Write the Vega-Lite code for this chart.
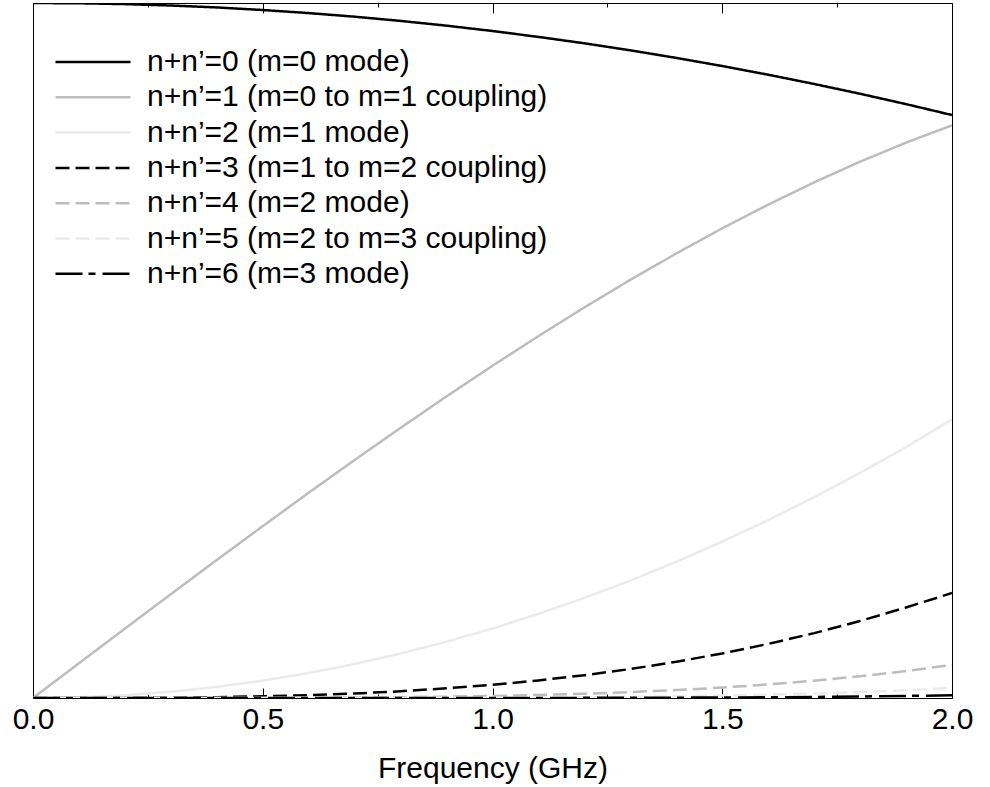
{
  "$schema": "https://vega.github.io/schema/vega-lite/v6.json",
  "width": 919,
  "height": 695,
  "autosize": "none",
  "padding": {"left": 33, "top": 3, "right": 38, "bottom": 89},
  "background": "white",
  "config": {
    "view": {"stroke": "#000", "strokeWidth": 1},
    "font": "Liberation Sans"
  },
  "datasets": {
    "names": [
      {"k": 0, "label": "n+n’=0 (m=0 mode)"},
      {"k": 1, "label": "n+n’=1 (m=0 to m=1 coupling)"},
      {"k": 2, "label": "n+n’=2 (m=1 mode)"},
      {"k": 3, "label": "n+n’=3 (m=1 to m=2 coupling)"},
      {"k": 4, "label": "n+n’=4 (m=2 mode)"},
      {"k": 5, "label": "n+n’=5 (m=2 to m=3 coupling)"},
      {"k": 6, "label": "n+n’=6 (m=3 mode)"}
    ],
    "curves": [
      {"k":0,"f":0.0,"v":1.0},{"k":0,"f":0.1,"v":0.9996},{"k":0,"f":0.2,"v":0.9984},{"k":0,"f":0.3,"v":0.9964},{"k":0,"f":0.4,"v":0.9936},{"k":0,"f":0.5,"v":0.9899},{"k":0,"f":0.6,"v":0.9855},{"k":0,"f":0.7,"v":0.9803},{"k":0,"f":0.8,"v":0.9742},{"k":0,"f":0.9,"v":0.9674},{"k":0,"f":1.0,"v":0.9597},{"k":0,"f":1.1,"v":0.9512},{"k":0,"f":1.2,"v":0.942},{"k":0,"f":1.3,"v":0.9319},{"k":0,"f":1.4,"v":0.921},{"k":0,"f":1.5,"v":0.9093},{"k":0,"f":1.6,"v":0.8968},{"k":0,"f":1.7,"v":0.8835},{"k":0,"f":1.8,"v":0.8694},{"k":0,"f":1.9,"v":0.8545},{"k":0,"f":2.0,"v":0.8388},
      {"k":1,"f":0.0,"v":0.0},{"k":1,"f":0.1,"v":0.05},{"k":1,"f":0.2,"v":0.0998},{"k":1,"f":0.3,"v":0.1494},{"k":1,"f":0.4,"v":0.1986},{"k":1,"f":0.5,"v":0.2473},{"k":1,"f":0.6,"v":0.2953},{"k":1,"f":0.7,"v":0.3425},{"k":1,"f":0.8,"v":0.3887},{"k":1,"f":0.9,"v":0.434},{"k":1,"f":1.0,"v":0.478},{"k":1,"f":1.1,"v":0.5207},{"k":1,"f":1.2,"v":0.562},{"k":1,"f":1.3,"v":0.6017},{"k":1,"f":1.4,"v":0.6396},{"k":1,"f":1.5,"v":0.6758},{"k":1,"f":1.6,"v":0.7099},{"k":1,"f":1.7,"v":0.7419},{"k":1,"f":1.8,"v":0.7717},{"k":1,"f":1.9,"v":0.7991},{"k":1,"f":2.0,"v":0.824},
      {"k":2,"f":0.0,"v":0.0},{"k":2,"f":0.1,"v":0.001},{"k":2,"f":0.2,"v":0.004},{"k":2,"f":0.3,"v":0.009},{"k":2,"f":0.4,"v":0.016},{"k":2,"f":0.5,"v":0.025},{"k":2,"f":0.6,"v":0.036},{"k":2,"f":0.7,"v":0.049},{"k":2,"f":0.8,"v":0.064},{"k":2,"f":0.9,"v":0.081},{"k":2,"f":1.0,"v":0.1},{"k":2,"f":1.1,"v":0.121},{"k":2,"f":1.2,"v":0.144},{"k":2,"f":1.3,"v":0.169},{"k":2,"f":1.4,"v":0.196},{"k":2,"f":1.5,"v":0.225},{"k":2,"f":1.6,"v":0.256},{"k":2,"f":1.7,"v":0.289},{"k":2,"f":1.8,"v":0.324},{"k":2,"f":1.9,"v":0.361},{"k":2,"f":2.0,"v":0.401},
      {"k":3,"f":0.0,"v":0.0},{"k":3,"f":0.1,"v":0.00002},{"k":3,"f":0.2,"v":0.00015},{"k":3,"f":0.3,"v":0.0005},{"k":3,"f":0.4,"v":0.0012},{"k":3,"f":0.5,"v":0.0024},{"k":3,"f":0.6,"v":0.0041},{"k":3,"f":0.7,"v":0.0065},{"k":3,"f":0.8,"v":0.0097},{"k":3,"f":0.9,"v":0.0139},{"k":3,"f":1.0,"v":0.019},{"k":3,"f":1.1,"v":0.0253},{"k":3,"f":1.2,"v":0.0328},{"k":3,"f":1.3,"v":0.0417},{"k":3,"f":1.4,"v":0.0521},{"k":3,"f":1.5,"v":0.0641},{"k":3,"f":1.6,"v":0.0778},{"k":3,"f":1.7,"v":0.0933},{"k":3,"f":1.8,"v":0.1108},{"k":3,"f":1.9,"v":0.1303},{"k":3,"f":2.0,"v":0.151},
      {"k":4,"f":0.0,"v":0.0},{"k":4,"f":0.1,"v":0.0},{"k":4,"f":0.2,"v":0.000005},{"k":4,"f":0.3,"v":0.000024},{"k":4,"f":0.4,"v":0.000076},{"k":4,"f":0.5,"v":0.00018},{"k":4,"f":0.6,"v":0.00038},{"k":4,"f":0.7,"v":0.00071},{"k":4,"f":0.8,"v":0.00122},{"k":4,"f":0.9,"v":0.00195},{"k":4,"f":1.0,"v":0.00298},{"k":4,"f":1.1,"v":0.00436},{"k":4,"f":1.2,"v":0.00617},{"k":4,"f":1.3,"v":0.0085},{"k":4,"f":1.4,"v":0.01143},{"k":4,"f":1.5,"v":0.01506},{"k":4,"f":1.6,"v":0.0195},{"k":4,"f":1.7,"v":0.02485},{"k":4,"f":1.8,"v":0.03124},{"k":4,"f":1.9,"v":0.03878},{"k":4,"f":2.0,"v":0.0476},
      {"k":5,"f":0.0,"v":0.0},{"k":5,"f":0.1,"v":0.0},{"k":5,"f":0.2,"v":0.0},{"k":5,"f":0.3,"v":0.0},{"k":5,"f":0.4,"v":0.0},{"k":5,"f":0.5,"v":0.00001},{"k":5,"f":0.6,"v":0.00003},{"k":5,"f":0.7,"v":0.00008},{"k":5,"f":0.8,"v":0.00015},{"k":5,"f":0.9,"v":0.00027},{"k":5,"f":1.0,"v":0.00045},{"k":5,"f":1.1,"v":0.00072},{"k":5,"f":1.2,"v":0.00112},{"k":5,"f":1.3,"v":0.00167},{"k":5,"f":1.4,"v":0.00242},{"k":5,"f":1.5,"v":0.00342},{"k":5,"f":1.6,"v":0.00472},{"k":5,"f":1.7,"v":0.00639},{"k":5,"f":1.8,"v":0.0085},{"k":5,"f":1.9,"v":0.01114},{"k":5,"f":2.0,"v":0.0144},
      {"k":6,"f":0.0,"v":0.0},{"k":6,"f":0.1,"v":0.0},{"k":6,"f":0.2,"v":0.0},{"k":6,"f":0.3,"v":0.0},{"k":6,"f":0.4,"v":0.0},{"k":6,"f":0.5,"v":0.0},{"k":6,"f":0.6,"v":0.0},{"k":6,"f":0.7,"v":0.00001},{"k":6,"f":0.8,"v":0.00002},{"k":6,"f":0.9,"v":0.00003},{"k":6,"f":1.0,"v":0.00006},{"k":6,"f":1.1,"v":0.00011},{"k":6,"f":1.2,"v":0.00019},{"k":6,"f":1.3,"v":0.0003},{"k":6,"f":1.4,"v":0.00047},{"k":6,"f":1.5,"v":0.00071},{"k":6,"f":1.6,"v":0.00105},{"k":6,"f":1.7,"v":0.00151},{"k":6,"f":1.8,"v":0.00213},{"k":6,"f":1.9,"v":0.00294},{"k":6,"f":2.0,"v":0.004}
    ]
  },
  "data": {"name": "curves"},
  "transform": [
    {"lookup": "k", "from": {"data": {"name": "names"}, "key": "k", "fields": ["label"]}}
  ],
  "layer": [
    {
      "mark": {"type": "line", "strokeWidth": 2.5, "clip": true},
      "encoding": {
        "x": {
          "field": "f", "type": "quantitative",
          "scale": {"domain": [0, 2], "nice": false, "zero": false},
          "axis": {
            "orient": "bottom",
            "title": "Frequency (GHz)",
            "values": [0, 0.25, 0.5, 0.75, 1, 1.25, 1.5, 1.75, 2],
            "format": ".1f",
            "labelExpr": "datum.value % 0.5 === 0 ? datum.label : ''",
            "tickSize": {"condition": {"test": "datum.value % 0.5 === 0", "value": -10}, "value": -4},
            "tickColor": "#000",
            "tickWidth": 1,
            "domain": false,
            "grid": false,
            "labelFont": "Liberation Sans",
            "labelFontSize": 30,
            "labelColor": "#000",
            "labelPadding": 16,
            "labelFlush": false,
            "labelOverlap": false,
            "titleFont": "Liberation Sans",
            "titleFontSize": 30,
            "titleFontWeight": "normal",
            "titleColor": "#000",
            "titlePadding": 13
          }
        },
        "y": {
          "field": "v", "type": "quantitative",
          "scale": {"domain": [0, 1], "nice": false},
          "axis": null
        },
        "color": {
          "field": "label", "type": "nominal",
          "scale": {
            "domain": ["n+n’=0 (m=0 mode)", "n+n’=1 (m=0 to m=1 coupling)", "n+n’=2 (m=1 mode)", "n+n’=3 (m=1 to m=2 coupling)", "n+n’=4 (m=2 mode)", "n+n’=5 (m=2 to m=3 coupling)", "n+n’=6 (m=3 mode)"],
            "range": ["#000000", "#bdbdbd", "#ebebeb", "#000000", "#bdbdbd", "#ebebeb", "#000000"]
          },
          "legend": {
            "title": null,
            "orient": "none",
            "legendX": 21,
            "legendY": 44,
            "padding": 0,
            "symbolType": "stroke",
            "symbolSize": 5625,
            "symbolStrokeWidth": 2.5,
            "clipHeight": 30,
            "rowPadding": 5.3,
            "labelOffset": 15,
            "labelFont": "Liberation Sans",
            "labelFontSize": 30,
            "labelColor": "#000",
            "labelLimit": 0
          }
        },
        "strokeDash": {
          "field": "label", "type": "nominal",
          "scale": {
            "domain": ["n+n’=0 (m=0 mode)", "n+n’=1 (m=0 to m=1 coupling)", "n+n’=2 (m=1 mode)", "n+n’=3 (m=1 to m=2 coupling)", "n+n’=4 (m=2 mode)", "n+n’=5 (m=2 to m=3 coupling)", "n+n’=6 (m=3 mode)"],
            "range": [[1, 0], [1, 0], [1, 0], [14, 6], [14, 6], [14, 6], [27, 6, 7, 7]]
          },
          "legend": {
            "title": null,
            "orient": "none",
            "legendX": 21,
            "legendY": 44,
            "padding": 0,
            "symbolType": "stroke",
            "symbolSize": 5625,
            "symbolStrokeWidth": 2.5,
            "clipHeight": 30,
            "rowPadding": 5.3,
            "labelOffset": 15,
            "labelFont": "Liberation Sans",
            "labelFontSize": 30,
            "labelColor": "#000",
            "labelLimit": 0
          }
        }
      }
    },
    {
      "mark": {"type": "point", "opacity": 0},
      "encoding": {
        "x": {
          "field": "f", "type": "quantitative",
          "axis": {
            "orient": "top",
            "title": null,
            "values": [0, 0.25, 0.5, 0.75, 1, 1.25, 1.5, 1.75, 2],
            "labels": false,
            "tickSize": {"condition": {"test": "datum.value % 0.5 === 0", "value": -10}, "value": -4},
            "tickColor": "#000",
            "tickWidth": 1,
            "domain": false,
            "grid": false
          }
        },
        "y": {"field": "v", "type": "quantitative"}
      }
    }
  ],
  "resolve": {"axis": {"x": "independent"}}
}
